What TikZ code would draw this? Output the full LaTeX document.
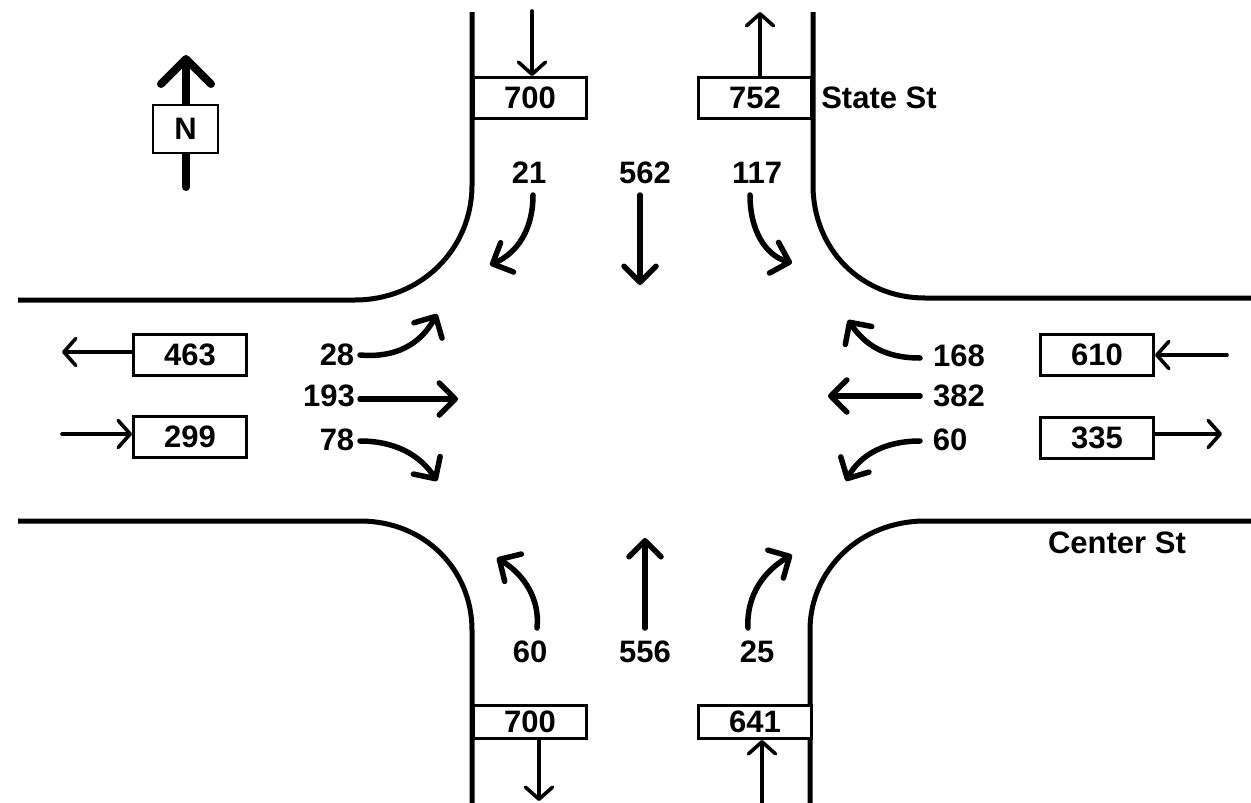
\documentclass[tikz,border=0pt]{standalone}
\usepackage{fontspec}
\setmainfont{Liberation Sans}
\usetikzlibrary{arrows.meta}

\tikzset{
    roadEdge/.style={line width=5pt},
    countBox/.style={draw, fill=white, line width=3pt, minimum width=113pt, inner sep=0pt, font=\bfseries\fontsize{31}{34}\selectfont},
    count/.style={inner sep=0pt, font=\bfseries\fontsize{31}{34}\selectfont},
    moveArrow/.style={line width=5.5pt, line cap=round, -{Straight Barb[length=16pt, width=32pt, round, line width=5.5pt]}},
    legArrow/.style={line width=3.6pt, line cap=round, -{Straight Barb[length=12pt, width=27pt, round, line width=3.6pt]}}
}

\begin{document}
\begin{tikzpicture}[x=1pt, y=-1pt]
    \useasboundingbox (0,0) rectangle (1251,803);

    % Draw road edges
    \draw[roadEdge] (472,12) -- (472,185) .. controls (472,250) and (420,300) .. (355,300) -- (18,300);
    \draw[roadEdge] (813,12) -- (813,185) .. controls (813,250) and (862,298) .. (925,298) -- (1251,298);
    \draw[roadEdge] (18,521) -- (360,521) .. controls (425,521) and (472,570) .. (472,630) -- (472,803);
    \draw[roadEdge] (1251,521) -- (925,521) .. controls (860,521) and (810,570) .. (810,630) -- (810,803);

    % North arrow
    \coordinate (northTail) at (186,187);
    \coordinate (northHead) at (186,55);
    \draw[line width=8pt, line cap=round, -{Straight Barb[length=25pt, width=50pt, round, line width=8pt]}] (northTail) -- (northHead);
    \node[draw, fill=white, line width=1.5pt, minimum width=65pt, minimum height=48pt, inner sep=0pt, font=\bfseries\fontsize{31}{34}\selectfont] (northBox) at (185.5,129) {N};

    % Leg totals
    \node[countBox, minimum height=41pt] (boxNin) at (530,98) {700};
    \node[countBox, minimum height=41pt] (boxNout) at (755,98) {752};
    \node[countBox, minimum height=41pt] (boxWout) at (190,355) {463};
    \node[countBox, minimum height=41pt] (boxWin) at (190,437) {299};
    \node[countBox, minimum height=41pt] (boxEin) at (1097,355) {610};
    \node[countBox, minimum height=41pt] (boxEout) at (1097,438) {335};
    \node[countBox, minimum height=33pt] (boxSout) at (530,722) {700};
    \node[countBox, minimum height=33pt] (boxSin) at (755,722) {641};

    % Leg arrows
    \coordinate (legNin) at (532,11);
    \coordinate (legNout) at (760,12);
    \coordinate (legWout) at (62,352);
    \coordinate (legWin) at (62,434);
    \coordinate (legEin) at (1227,355);
    \coordinate (legEout) at (1222,434);
    \coordinate (legSout) at (539,801);
    \coordinate (legSin) at (762,803);
    \draw[legArrow] (legNin) -- (legNin |- boxNin.north);
    \draw[legArrow] (legNout |- boxNout.north) -- (legNout);
    \draw[legArrow] (legWout -| boxWout.west) -- (legWout);
    \draw[legArrow] (legWin) -- (legWin -| boxWin.west);
    \draw[legArrow] (legEin) -- (legEin -| boxEin.east);
    \draw[legArrow] (legEout -| boxEout.east) -- (legEout);
    \draw[legArrow] (legSout |- boxSout.south) -- (legSout);
    \draw[legArrow] (legSin) -- (legSin |- boxSin.south);

    % Turning counts
    \node[count] (nR) at (529,173) {21};
    \node[count] (nT) at (645,173) {562};
    \node[count] (nL) at (757,173) {117};
    \node[count] (wL) at (337,355) {28};
    \node[count] (wT) at (329,396) {193};
    \node[count] (wR) at (337,440) {78};
    \node[count] (eR) at (959,356) {168};
    \node[count] (eT) at (959,396) {382};
    \node[count] (eL) at (950,440) {60};
    \node[count] (sL) at (530,652) {60};
    \node[count] (sT) at (645,652) {556};
    \node[count] (sR) at (757,652) {25};

    % Street names
    \node[count] (stateSt) at (879,98) {State St};
    \node[count] (centerSt) at (1117,543) {Center St};

    % Movement arrows
    \coordinate (nRa) at (533,195);
    \coordinate (nRb) at (490,265);
    \coordinate (nTa) at (640,195);
    \coordinate (nTb) at (640,285);
    \coordinate (nLa) at (750,195);
    \coordinate (nLb) at (792,263);
    \coordinate (wLa) at (360,355);
    \coordinate (wLb) at (437,314);
    \coordinate (wTa) at (360,399);
    \coordinate (wTb) at (458,399);
    \coordinate (wRa) at (360,441);
    \coordinate (wRb) at (437,481);
    \coordinate (eRa) at (920,358);
    \coordinate (eRb) at (848,320);
    \coordinate (eTa) at (920,396);
    \coordinate (eTb) at (828,396);
    \coordinate (eLa) at (920,441);
    \coordinate (eLb) at (846,481);
    \coordinate (sLa) at (537,628);
    \coordinate (sLb) at (497,558);
    \coordinate (sTa) at (645,628);
    \coordinate (sTb) at (645,538);
    \coordinate (sRa) at (748,628);
    \coordinate (sRb) at (792,555);

    \draw[moveArrow] (nRa) .. controls (533,230) and (517,253) .. (nRb);
    \draw[moveArrow] (nTa) -- (nTb);
    \draw[moveArrow] (nLa) .. controls (750,230) and (765,255) .. (nLb);
    \draw[moveArrow] (wLa) .. controls (395,358) and (420,345) .. (wLb);
    \draw[moveArrow] (wTa) -- (wTb);
    \draw[moveArrow] (wRa) .. controls (395,441) and (420,455) .. (wRb);
    \draw[moveArrow] (eRa) .. controls (885,358) and (865,345) .. (eRb);
    \draw[moveArrow] (eTa) -- (eTb);
    \draw[moveArrow] (eLa) .. controls (885,441) and (860,455) .. (eLb);
    \draw[moveArrow] (sLa) .. controls (540,600) and (525,575) .. (sLb);
    \draw[moveArrow] (sTa) -- (sTb);
    \draw[moveArrow] (sRa) .. controls (746,595) and (765,570) .. (sRb);
\end{tikzpicture}
\end{document}
